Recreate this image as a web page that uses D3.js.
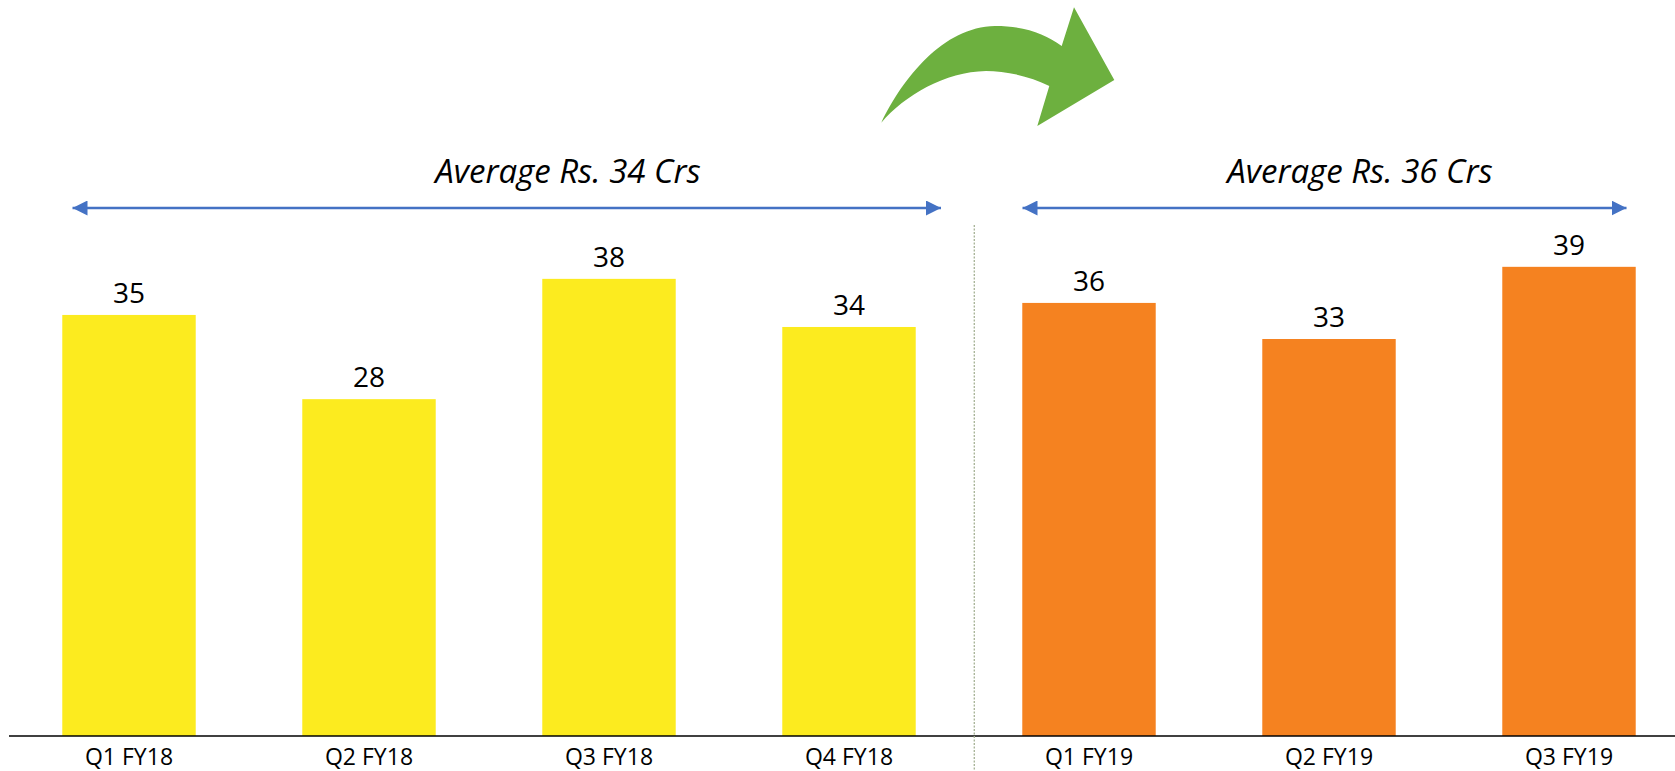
<!DOCTYPE html>
<html>
<head>
<meta charset="utf-8">
<script src="https://cdn.jsdelivr.net/npm/d3@7"></script>
<style>
  html, body { margin: 0; padding: 0; background: #ffffff; }
  svg { display: block; }
  text { font-family: "Open Sans", "Noto Sans", sans-serif; fill: #000; }
</style>
</head>
<body>
<svg id="chart" width="1675" height="771"></svg>
<script>
// Quarterly figures (Rs. Crs)
const categories = ["Q1 FY18", "Q2 FY18", "Q3 FY18", "Q4 FY18", "Q1 FY19", "Q2 FY19", "Q3 FY19"];
const values     = [35, 28, 38, 34, 36, 33, 39];
const fiscalYear = ["FY18", "FY18", "FY18", "FY18", "FY19", "FY19", "FY19"];

// Period averages shown above each group
const averageLabels = ["Average Rs. 34 Crs", "Average Rs. 36 Crs"];

const colors = { FY18: "#FCEB1F", FY19: "#F58220" };

const svg = d3.select("#chart");
const W = 1675, H = 771;
const baseY = 736;

const x = d3.scaleBand()
  .domain(categories)
  .range([9, 1689])
  .paddingInner(0.444)
  .paddingOuter(0.222);

const y = d3.scaleLinear()
  .domain([0, 45])
  .range([baseY, baseY - 45 * 12.03]);

// Bars
svg.append("g")
  .selectAll("rect")
  .data(categories)
  .join("rect")
  .attr("x", d => x(d))
  .attr("y", (d, i) => y(values[i]))
  .attr("width", x.bandwidth())
  .attr("height", (d, i) => y(0) - y(values[i]))
  .attr("fill", (d, i) => colors[fiscalYear[i]]);

// Value labels
svg.append("g")
  .selectAll("text")
  .data(categories)
  .join("text")
  .attr("x", d => x(d) + x.bandwidth() / 2)
  .attr("y", (d, i) => y(values[i]) - 12)
  .attr("text-anchor", "middle")
  .style("font-size", "28px")
  .text((d, i) => values[i]);

// Category axis
const axis = svg.append("g")
  .attr("transform", `translate(0,${baseY})`)
  .call(d3.axisBottom(x).tickSize(0).tickPadding(0));
axis.select(".domain").remove();
axis.selectAll("text")
  .style("font-size", "23px")
  .style("font-family", '"Open Sans", sans-serif')
  .attr("fill", "#000")
  .attr("y", 29)
  .attr("dy", null);
svg.append("line")
  .attr("x1", 9).attr("x2", W)
  .attr("y1", baseY).attr("y2", baseY)
  .attr("stroke", "#000").attr("stroke-width", 1.6);

// Divider between the fiscal years
const divX = x("Q1 FY19") - x.step() * 0.2;
svg.append("line")
  .attr("x1", divX).attr("x2", divX)
  .attr("y1", 225).attr("y2", H)
  .attr("stroke", "#A4B093")
  .attr("stroke-width", 1.3)
  .attr("stroke-dasharray", "2,1.5");

// Double-headed range arrows with averages
const defs = svg.append("defs");
function head(id, orient) {
  defs.append("marker")
    .attr("id", id)
    .attr("viewBox", "0 0 15 15")
    .attr("refX", orient === "end" ? 15 : 0)
    .attr("refY", 7.5)
    .attr("markerWidth", 15)
    .attr("markerHeight", 15)
    .attr("markerUnits", "userSpaceOnUse")
    .attr("orient", "auto")
    .append("path")
    .attr("d", orient === "end" ? "M0,0 L15,7.5 L0,15 Z" : "M15,0 L0,7.5 L15,15 Z")
    .attr("fill", "#4472C4");
}
head("arrEnd", "end");
head("arrStart", "start");

const arrowY = 208;
const spans = [[72.5, 941], [1022.5, 1626.5]];
const titleX = [568, 1360];
averageLabels.forEach((lab, k) => {
  svg.append("line")
    .attr("x1", spans[k][0]).attr("x2", spans[k][1])
    .attr("y1", arrowY).attr("y2", arrowY)
    .attr("stroke", "#4472C4").attr("stroke-width", 2.6)
    .attr("marker-start", "url(#arrStart)")
    .attr("marker-end", "url(#arrEnd)");
  svg.append("text")
    .attr("x", titleX[k])
    .attr("y", 183)
    .attr("text-anchor", "middle")
    .style("font-size", "33px")
    .style("font-style", "italic")
    .text(lab);
});

// Curved growth arrow
svg.append("path")
  .attr("d", "M881.3,122.7 C903,78 943,27 995,26 C1025,26 1045,34 1061.7,46 L1074,7.3 L1114.3,80 L1037.3,126 L1049.3,86 C1030,76 1005,71 986,71 C945,72 905,95 881.3,122.7 Z")
  .attr("fill", "#6DB03F");
</script>
</body>
</html>
